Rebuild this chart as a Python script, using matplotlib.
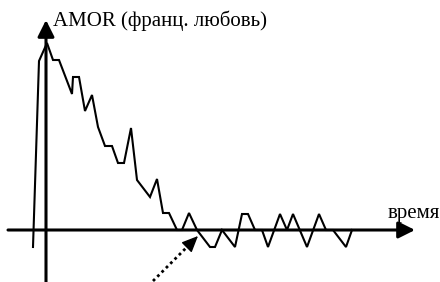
#!/usr/bin/env python3
"""
AMOR over time: sketch with arrowed axes
"""
import matplotlib
matplotlib.use("Agg")
import matplotlib.pyplot as plt


# time / amor values, origin at the axes crossing
time = [-13, -7, 1, 7, 13, 26, 27, 33, 39, 46, 52, 59, 66, 72, 78, 85, 91,
        104, 111, 117, 123, 131, 136, 143, 151, 164, 169, 176, 189, 196, 202,
        209, 216, 222, 234, 241, 247, 261, 273, 280, 287, 300, 306]
amor = [-17, 169, 187, 170, 170, 136, 153, 153, 119, 135, 103, 84, 84, 67, 67,
        102, 50, 33, 51, 17, 17, 0, 0, 17, 0, -17, -17, 0, -17, 16, 16,
        0, 0, -17, 16, 0, 16, -17, 16, 0, 0, -17, 0]

y_label = "AMOR (франц. любовь)"
x_label = "время"


def main():
    plt.rcParams['font.family'] = ['Liberation Serif', 'DejaVu Serif']
    fig = plt.figure(figsize=(4.40, 2.82), dpi=100)
    ax = fig.add_axes([0, 0, 1, 1])
    ax.set_xlim(-46, 394)
    ax.set_ylim(-52, 230)
    ax.axis("off")

    # axes with arrow heads
    axprops = dict(arrowstyle="-|>,head_length=0.4,head_width=0.2",
                   lw=2.2, color="black", mutation_scale=25,
                   shrinkA=0, shrinkB=0)
    ax.annotate("", xy=(369, 0), xytext=(-38, 0), arrowprops=axprops)
    ax.annotate("", xy=(0, 210), xytext=(0, -52), arrowprops=axprops)

    ax.plot(time, amor, color="black", lw=1.5, solid_joinstyle="miter")

    # dotted pointer to the first zero crossing
    ax.plot([107, 146], [-51, -12], color="black", lw=2, ls=(0, (1, 1.2)))
    ax.annotate("", xy=(152, -6), xytext=(142, -16),
                arrowprops=dict(arrowstyle="-|>,head_length=0.5,head_width=0.22",
                                lw=1, color="black", mutation_scale=20,
                                shrinkA=0, shrinkB=0))

    ax.text(7, 204, y_label, fontsize=15, ha="left", va="baseline")
    ax.text(342, 12, x_label, fontsize=15, ha="left", va="baseline")

    fig.savefig("out.png", dpi=100)


if __name__ == '__main__':
    main()
